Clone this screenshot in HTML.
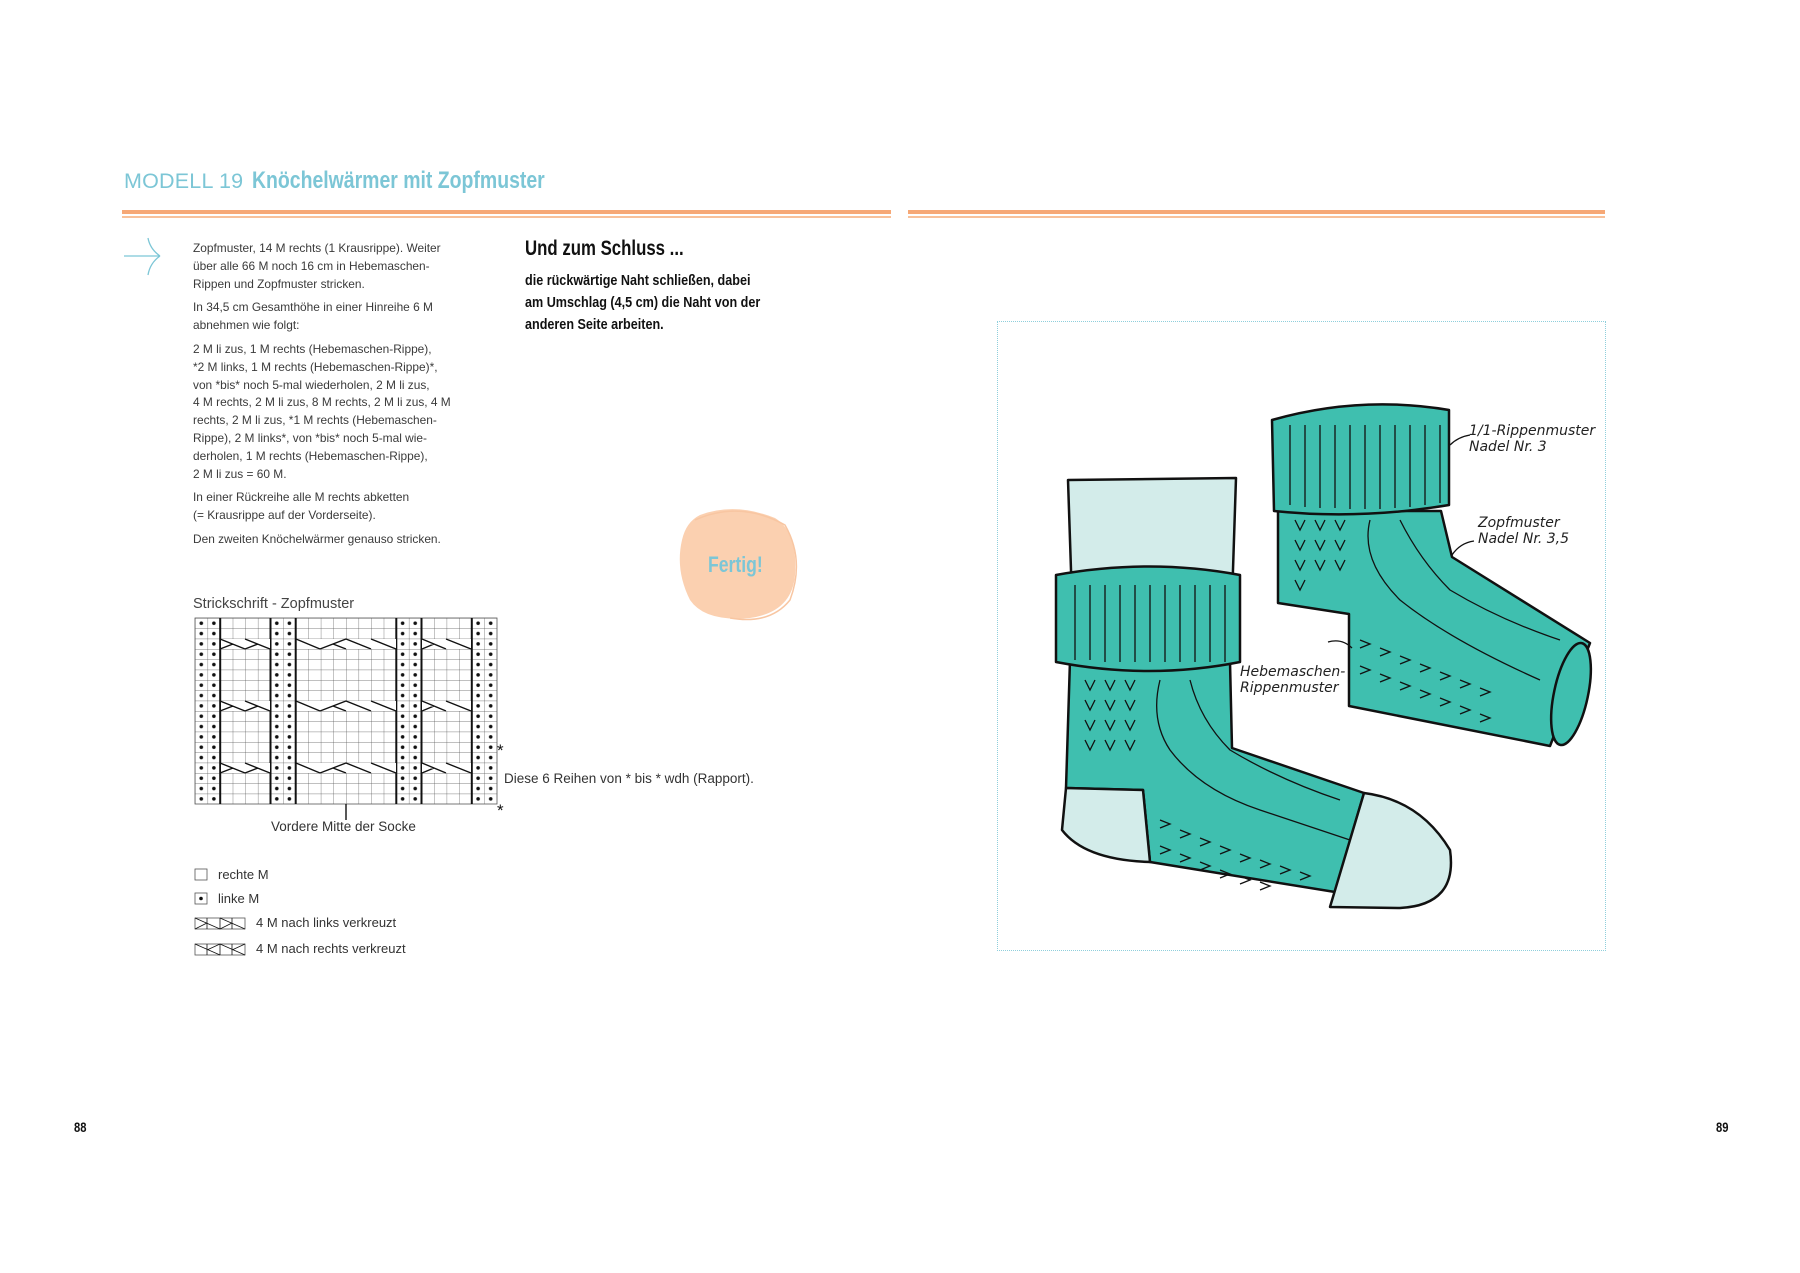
<!DOCTYPE html>
<html><head><meta charset="utf-8"><style>
body{margin:0;width:1800px;height:1273px;background:#fff;position:relative;overflow:hidden;font-family:"Liberation Sans",sans-serif;color:#333}
.a{position:absolute;white-space:nowrap}
.p{position:absolute;left:193px;font-size:11.9px;line-height:17.8px;color:#3a3a3a;white-space:nowrap}
.p div{margin-bottom:6px}
.h{font-family:"Liberation Sans",sans-serif;font-weight:bold;color:#111;transform-origin:0 0}
.hw{font-family:"DejaVu Sans",sans-serif;font-size:14px;color:#222;font-style:italic}
</style></head><body>
<div class="a" style="left:124px;top:169px;font-size:21.5px;color:#7cc6d6;letter-spacing:0.2px">MODELL 19</div>
<div class="a h" style="left:252px;top:167px;font-size:24px;color:#7cc6d6;transform:scaleX(0.81)">Knöchelwärmer mit Zopfmuster</div>
<div class="a" style="left:122px;top:210px;width:769px;height:4px;background:#f6a876"></div>
<div class="a" style="left:122px;top:216px;width:769px;height:2px;background:#f8c19a"></div>
<div class="a" style="left:908px;top:210px;width:697px;height:4px;background:#f6a876"></div>
<div class="a" style="left:908px;top:216px;width:697px;height:2px;background:#f8c19a"></div>
<svg class="a" style="left:120px;top:235px" width="50" height="45"><path d="M4 21 H40 M40 21 Q30 14 28 3 M40 21 Q30 28 28 40" stroke="#7cc6d6" stroke-width="1.3" fill="none"/></svg>
<div class="p" style="top:240px">
<div>Zopfmuster, 14 M rechts (1 Krausrippe). Weiter<br>über alle 66 M noch 16 cm in Hebemaschen-<br>Rippen und Zopfmuster stricken.</div>
<div>In 34,5 cm Gesamthöhe in einer Hinreihe 6 M<br>abnehmen wie folgt:</div>
<div>2 M li zus, 1 M rechts (Hebemaschen-Rippe),<br>*2 M links, 1 M rechts (Hebemaschen-Rippe)*,<br>von *bis* noch 5-mal wiederholen, 2 M li zus,<br>4 M rechts, 2 M li zus, 8 M rechts, 2 M li zus, 4 M<br>rechts, 2 M li zus, *1 M rechts (Hebemaschen-<br>Rippe), 2 M links*, von *bis* noch 5-mal wie-<br>derholen, 1 M rechts (Hebemaschen-Rippe),<br>2 M li zus = 60 M.</div>
<div>In einer Rückreihe alle M rechts abketten<br>(= Krausrippe auf der Vorderseite).</div>
<div>Den zweiten Knöchelwärmer genauso stricken.</div>
</div>
<div class="a h" style="left:525px;top:237px;font-size:21px;transform:scaleX(0.8)">Und zum Schluss ...</div>
<div class="a h" style="left:525px;top:270px;font-size:15px;line-height:22px;transform:scaleX(0.84)">die rückwärtige Naht schließen, dabei<br>am Umschlag (4,5 cm) die Naht von der<br>anderen Seite arbeiten.</div>
<svg class="a" style="left:670px;top:500px" width="140" height="130"><path d="M30 15 Q65 2 105 18 Q128 32 125 75 Q122 112 80 118 Q35 122 20 100 Q5 70 12 40 Q16 22 30 15Z" fill="#fbd0b0"/><path d="M25 20 Q70 0 115 25 Q135 60 120 100 Q100 125 60 118" stroke="#f8c6a2" stroke-width="1.5" fill="none"/></svg>
<div class="a h" style="left:708px;top:552px;font-size:22px;color:#7cc6d6;transform:scaleX(0.8)">Fertig!</div>
<div class="a" style="left:193px;top:596px;font-size:14.5px;color:#444">Strickschrift - Zopfmuster</div>
<svg class="a" style="left:0;top:0" width="560" height="980">
<defs>
<pattern id="g" x="195" y="618" width="12.583" height="10.333" patternUnits="userSpaceOnUse"><path d="M0 0 H12.583 M0 0 V10.333" stroke="#555" stroke-width="0.7" fill="none"/></pattern>
<pattern id="d" x="195" y="618" width="12.583" height="10.333" patternUnits="userSpaceOnUse"><circle cx="6.3" cy="5.2" r="1.8" fill="#111"/></pattern>
</defs>
<rect x="195" y="618" width="302" height="186" fill="url(#g)" stroke="#555" stroke-width="0.8"/>
<g fill="url(#d)"><rect x="195" y="618" width="25.17" height="186"/><rect x="270.5" y="618" width="25.17" height="186"/><rect x="396.3" y="618" width="25.17" height="186"/><rect x="471.8" y="618" width="25.17" height="186"/></g>
<g stroke="#111" stroke-width="2"><line x1="220.2" y1="618" x2="220.2" y2="804"/><line x1="270.5" y1="618" x2="270.5" y2="804"/><line x1="295.7" y1="618" x2="295.7" y2="804"/><line x1="396.3" y1="618" x2="396.3" y2="804"/><line x1="421.5" y1="618" x2="421.5" y2="804"/><line x1="471.8" y1="618" x2="471.8" y2="804"/></g>
<g fill="#fff"><rect x="221" y="639" width="49" height="10"/><rect x="297" y="639" width="99" height="10"/><rect x="422" y="639" width="49" height="10"/><rect x="221" y="701" width="49" height="10"/><rect x="297" y="701" width="99" height="10"/><rect x="422" y="701" width="49" height="10"/><rect x="221" y="763" width="49" height="10"/><rect x="297" y="763" width="99" height="10"/><rect x="422" y="763" width="49" height="10"/></g>
<g stroke="#111" stroke-width="1.4" fill="none">
<path id="cr" d="M220 639 L245 649 M220 649 L233 644 M245 639 L270 649 M245 649 L258 644 M296 639 L320 649 M320 649 L346 639 L371 649 M346 649 L333 644 M371 639 L396 649 M422 639 L446 649 M446 639 L471 649 M422 649 L434 644"/>
<use href="#cr" y="62"/><use href="#cr" y="124"/>
<line x1="346" y1="804" x2="346" y2="820"/>
</g>
<text x="497" y="756" font-size="17" fill="#111" font-family="Liberation Sans">*</text>
<text x="497" y="816" font-size="17" fill="#111" font-family="Liberation Sans">*</text>
<g stroke="#555" stroke-width="0.8" fill="none"><rect x="195" y="869" width="12" height="11"/><rect x="195" y="893" width="12" height="11"/><rect x="195" y="918" width="50" height="11"/><path d="M207 918V929M220 918V929M232 918V929M195 918L220 929M195 929L207 923M220 918L245 929M220 929L232 923" stroke="#111"/><rect x="195" y="944" width="50" height="11"/><path d="M207 944V955M220 944V955M232 944V955M195 944L220 955M220 944L207 950M220 944L245 955M245 944L232 950" stroke="#111"/></g>
<circle cx="201" cy="898.5" r="1.8" fill="#111"/>
</svg>
<div class="a" style="left:504px;top:771px;font-size:13.5px;color:#333">Diese 6 Reihen von * bis * wdh (Rapport).</div>
<div class="a" style="left:271px;top:819px;font-size:13.5px;color:#333">Vordere Mitte der Socke</div>
<div class="a" style="left:218px;top:867px;font-size:13px">rechte M</div>
<div class="a" style="left:218px;top:891px;font-size:13px">linke M</div>
<div class="a" style="left:256px;top:915px;font-size:13px">4 M nach links verkreuzt</div>
<div class="a" style="left:256px;top:941px;font-size:13px">4 M nach rechts verkreuzt</div>
<div class="a h" style="left:74px;top:1119px;font-size:14px;transform:scaleX(0.8)">88</div>
<div class="a h" style="left:1716px;top:1119px;font-size:14px;transform:scaleX(0.8)">89</div>
<div class="a" style="left:997px;top:321px;width:607px;height:628px;border:1.5px dotted #8fcfdc"></div>
<svg class="a" style="left:1000px;top:380px" width="600" height="540" viewBox="1000 380 600 540">
<g stroke="#111" stroke-width="2.5" stroke-linejoin="round">
<path d="M1068 480 L1236 478 L1232 600 L1072 600Z" fill="#d3ecea"/>
<path d="M1278 603 L1349 614 L1349 706 L1550 746 L1590 643 L1452 557 L1441 511 L1278 511Z" fill="#3fbfaf"/>
<ellipse cx="1571" cy="694" rx="17" ry="52" fill="#3fbfaf" transform="rotate(12 1571 694)"/>
<path d="M1274 511 L1272 420 Q1360 395 1449 410 L1449 505 Q1360 520 1274 511Z" fill="#3fbfaf"/>
<path d="M1070 660 L1230 662 L1232 748 L1364 793 L1335 892 L1150 862 L1143 790 L1066 788Z" fill="#3fbfaf"/>
<path d="M1066 788 L1143 790 L1150 862 Q1085 860 1062 830Z" fill="#d3ecea"/>
<path d="M1364 793 Q1420 800 1450 850 Q1458 905 1400 908 L1330 907Z" fill="#d3ecea"/>
<path d="M1056 575 Q1150 558 1240 575 L1240 662 Q1150 680 1056 662Z" fill="#3fbfaf"/>
</g>
<g stroke="#111" stroke-width="1.3" fill="none">
<path d="M1075 585V660M1090 585V660M1105 585V662M1120 585V662M1135 585V662M1150 585V662M1165 585V662M1180 585V662M1195 585V662M1210 585V662M1225 585V662"/>
<path d="M1290 425V505M1305 425V507M1320 425V508M1335 425V508M1350 425V509M1365 425V509M1380 425V509M1395 425V508M1410 425V507M1425 425V505M1440 425V503"/>
<path d="M1085 680l5 10l5 -10M1085 700l5 10l5 -10M1085 720l5 10l5 -10M1085 740l5 10l5 -10M1105 680l5 10l5 -10M1105 700l5 10l5 -10M1105 720l5 10l5 -10M1105 740l5 10l5 -10M1125 680l5 10l5 -10M1125 700l5 10l5 -10M1125 720l5 10l5 -10M1125 740l5 10l5 -10"/>
<path d="M1295 520l5 10l5 -10M1295 540l5 10l5 -10M1295 560l5 10l5 -10M1295 580l5 10l5 -10M1315 520l5 10l5 -10M1315 540l5 10l5 -10M1315 560l5 10l5 -10M1335 520l5 10l5 -10M1335 540l5 10l5 -10M1335 560l5 10l5 -10"/>
<path d="M1160 680 Q1150 720 1170 750 Q1200 790 1260 810 Q1320 830 1350 840 M1190 680 Q1200 720 1230 750 Q1280 780 1340 800"/>
<path d="M1370 520 Q1360 560 1400 600 Q1450 640 1540 680 M1400 520 Q1420 560 1450 590 Q1500 620 1560 640"/>
<path d="M1160 820 l10 4 l-10 4 M1180 830 l10 4 l-10 4 M1200 838 l10 4 l-10 4 M1220 846 l10 4 l-10 4 M1240 854 l10 4 l-10 4 M1260 860 l10 4 l-10 4 M1280 866 l10 4 l-10 4 M1300 872 l10 4 l-10 4 M1160 846 l10 4 l-10 4 M1180 854 l10 4 l-10 4 M1200 862 l10 4 l-10 4 M1220 870 l10 4 l-10 4 M1240 876 l10 4 l-10 4 M1260 882 l10 4 l-10 4"/>
<path d="M1360 640 l10 4 l-10 4 M1380 648 l10 4 l-10 4 M1400 656 l10 4 l-10 4 M1420 664 l10 4 l-10 4 M1440 672 l10 4 l-10 4 M1460 680 l10 4 l-10 4 M1480 688 l10 4 l-10 4 M1360 666 l10 4 l-10 4 M1380 674 l10 4 l-10 4 M1400 682 l10 4 l-10 4 M1420 690 l10 4 l-10 4 M1440 698 l10 4 l-10 4 M1460 706 l10 4 l-10 4 M1480 714 l10 4 l-10 4"/>
<path d="M1450 445 q8 -8 20 -10 M1452 555 q8 -12 22 -14 M1352 648 q-10 -10 -24 -6"/>
</g>
</svg>
<div class="a hw" style="left:1469px;top:423px">1/1-Rippenmuster<br>Nadel Nr. 3</div>
<div class="a hw" style="left:1478px;top:515px">Zopfmuster<br>Nadel Nr. 3,5</div>
<div class="a hw" style="left:1240px;top:664px">Hebemaschen-<br>Rippenmuster</div>
</body></html>
